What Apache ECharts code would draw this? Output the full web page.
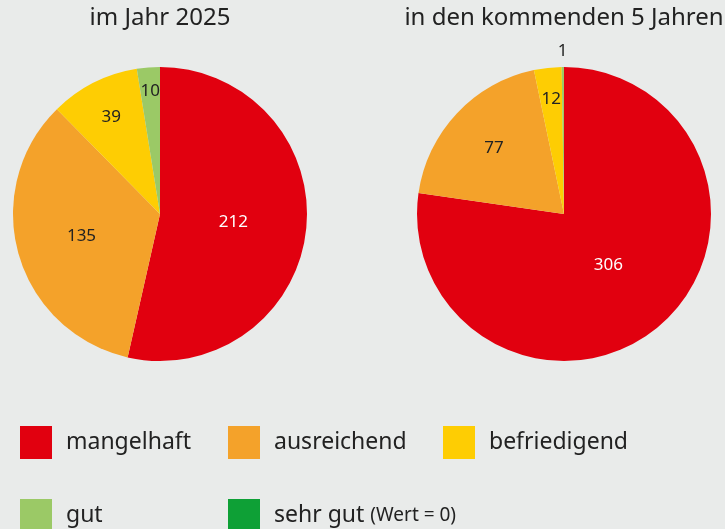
<!DOCTYPE html>
<html>
<head>
<meta charset="utf-8">
<script src="https://cdn.jsdelivr.net/npm/echarts@6/dist/echarts.min.js"></script>
<style>
    html, body { margin: 0; padding: 0; background: #e9ebea; }
    #main { width: 725px; height: 529px; }
</style>
</head>
<body>
<div id="main"></div>
<script type="text/javascript">
    // Daten
    var categories = ['mangelhaft', 'ausreichend', 'befriedigend', 'gut', 'sehr gut'];
    var werte2025 = [212, 135, 39, 10, 0];
    var werte5Jahre = [306, 77, 12, 1, 0];
    var titel = ['im Jahr 2025', 'in den kommenden 5 Jahren'];

    var farben = ['#e1000f', '#f4a22a', '#fecd03', '#9bc966', '#0ea036'];
    var textFarbe = ['#ffffff', '#222222', '#222222', '#222222', '#222222'];
    var font = '"Noto Sans", sans-serif';

    // Abstand der Beschriftung vom Mittelpunkt (relativ zur Standardposition)
    var labelFaktor = [
        [0.966, 1.067, 1.415, 1.61, 1],
        [0.885, 1.257, 1.512, 2.126, 1]
    ];
    var mitten = [[160, 214], [564, 214]];

    function daten(werte) {
        return categories.map(function (name, i) {
            return {
                name: name,
                value: werte[i],
                itemStyle: { color: farben[i] },
                label: { show: werte[i] > 0, color: textFarbe[i] }
            };
        });
    }

    function pie(idx, werte) {
        return {
            name: titel[idx],
            type: 'pie',
            center: mitten[idx],
            radius: [0, 147],
            startAngle: 90,
            clockwise: true,
            avoidLabelOverlap: false,
            animation: false,
            silent: true,
            itemStyle: { borderWidth: 0 },
            label: {
                show: true,
                position: 'inside',
                formatter: '{c}',
                fontSize: 17,
                fontFamily: font
            },
            labelLine: { show: false },
            labelLayout: function (p) {
                var f = labelFaktor[idx][p.dataIndex];
                var r = p.labelRect;
                var vx = r.x + r.width / 2 - mitten[idx][0];
                var vy = r.y + r.height / 2 - mitten[idx][1];
                return { dx: (f - 1) * vx, dy: (f - 1) * vy };
            },
            data: daten(werte)
        };
    }

    var legendPos = [[20, 426], [228, 426], [443, 426], [20, 499], [228, 499]];
    var legends = categories.map(function (name, i) {
        return {
            data: [name],
            left: legendPos[i][0],
            top: legendPos[i][1],
            padding: 0,
            icon: 'rect',
            itemWidth: 32,
            itemHeight: 33,
            itemGap: 14,
            selectedMode: false,
            formatter: function (n) {
                return n === 'sehr gut' ? n + ' {k|(Wert = 0)}' : n;
            },
            textStyle: {
                fontSize: 23,
                fontFamily: font,
                color: '#222222',
                padding: [0, 0, 0, 9],
                rich: { k: { fontSize: 19, fontFamily: font, color: '#222222' } }
            }
        };
    });

    var myChart = echarts.init(document.getElementById('main'));
    var option = {
        backgroundColor: '#e9ebea',
        title: [
            { text: titel[0], left: 160, top: 6, padding: 0, textAlign: 'center',
              textStyle: { fontSize: 24, fontWeight: 'normal', fontFamily: font, color: '#222222' } },
            { text: titel[1], left: 564, top: 6, padding: 0, textAlign: 'center',
              textStyle: { fontSize: 24, fontWeight: 'normal', fontFamily: font, color: '#222222' } }
        ],
        legend: legends,
        series: [pie(0, werte2025), pie(1, werte5Jahre)]
    };
    myChart.setOption(option);
</script>
</body>
</html>
